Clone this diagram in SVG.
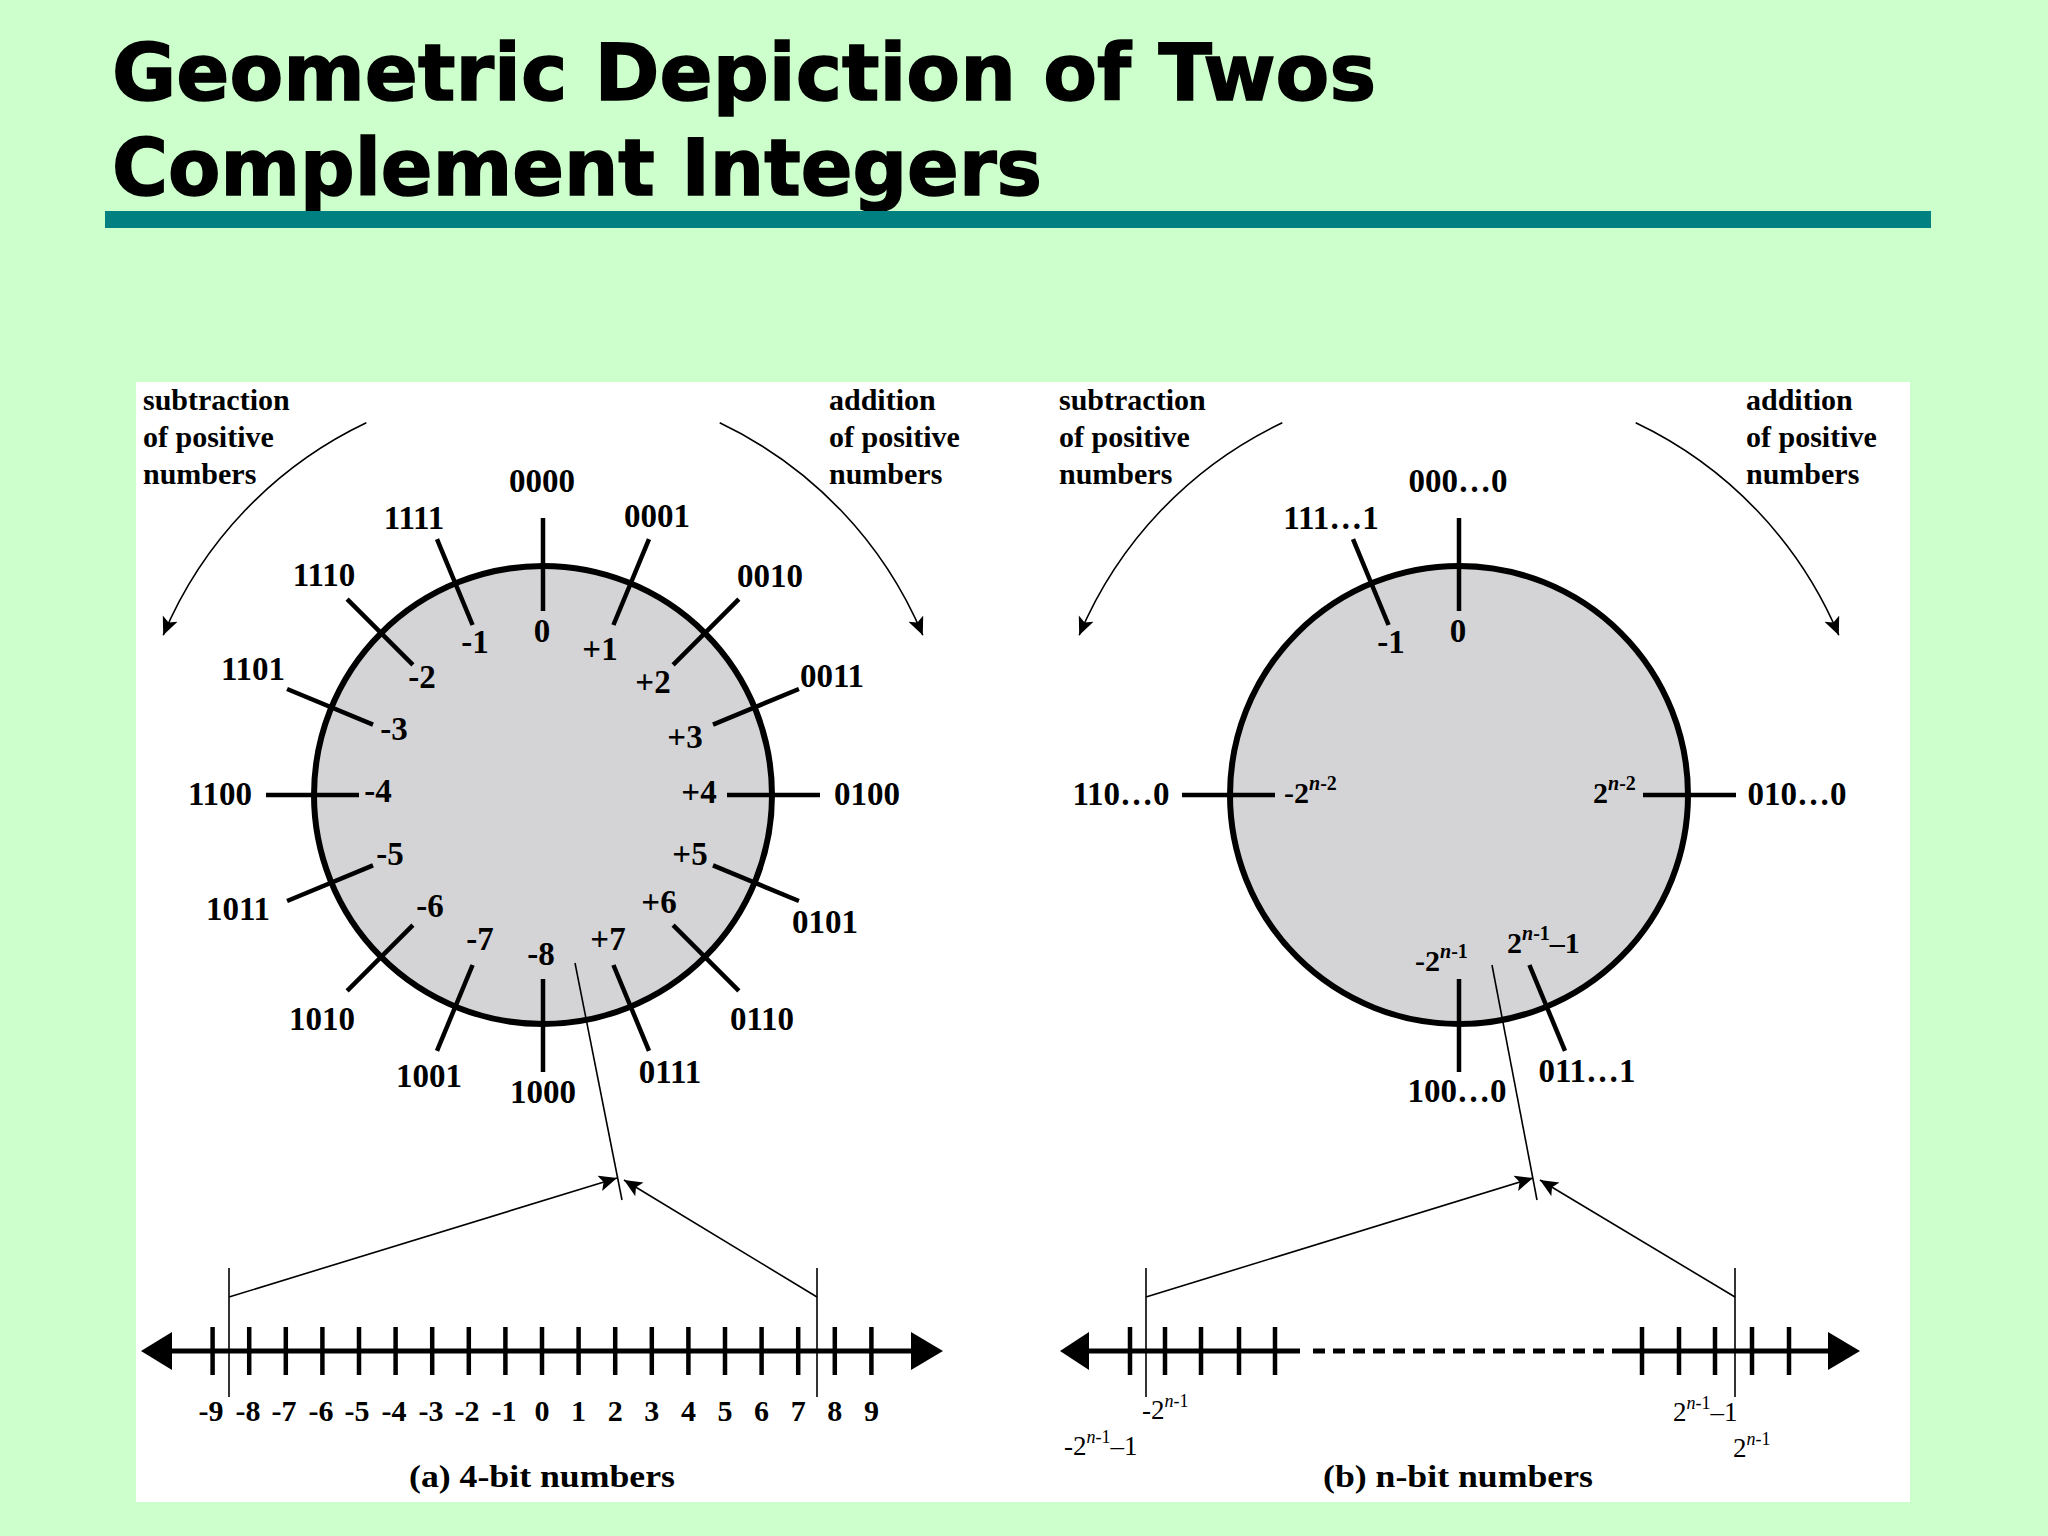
<svg xmlns="http://www.w3.org/2000/svg" width="2048" height="1536" viewBox="0 0 2048 1536">
<defs>
<marker id="ah" markerUnits="userSpaceOnUse" markerWidth="20" markerHeight="18" refX="18" refY="8" orient="auto">
<path d="M0,0 L18,8 L0,16 L4,8 z" fill="#000"/>
</marker>
<style>
.t{font-family:"Liberation Serif","Times New Roman",serif;font-weight:bold;fill:#000}
.lb{font-size:33px;text-anchor:middle}
.an{font-size:30px}
.nl{font-size:30px;text-anchor:middle}
.rg{font-family:"Liberation Serif","Times New Roman",serif;font-size:27px;fill:#000}
.tk{stroke:#000;stroke-width:4.5;fill:none}
.thin{stroke:#000;stroke-width:1.6;fill:none}
.circ{fill:#d4d4d6;stroke:#000;stroke-width:6}
.axis{stroke:#000;stroke-width:5;fill:none}
.title{font-family:"DejaVu Sans","Liberation Sans",sans-serif;font-weight:bold;font-size:78px;fill:#000;stroke:#000;stroke-width:1.5}
</style>
</defs>
<rect x="0" y="0" width="2048" height="1536" fill="#ccffcc"/>
<g id="title">
<text class="title" x="112" y="100" textLength="1264" lengthAdjust="spacingAndGlyphs">Geometric Depiction of Twos</text>
<text class="title" x="112" y="195" textLength="930" lengthAdjust="spacingAndGlyphs">Complement Integers</text>
<rect x="105" y="211" width="1826" height="17" fill="#008080"/>
</g>
<rect id="panel" x="136" y="382" width="1774" height="1120" fill="#ffffff"/>

<!-- (a) 4-bit -->
<g id="circle-a">
<circle cx="543" cy="795" r="229" class="circ"/>
<g transform="translate(543,795)" class="tk">
<line y1="-184" y2="-277" transform="rotate(0)"/>
<line y1="-184" y2="-277" transform="rotate(22.5)"/>
<line y1="-184" y2="-277" transform="rotate(45)"/>
<line y1="-184" y2="-277" transform="rotate(67.5)"/>
<line y1="-184" y2="-277" transform="rotate(90)"/>
<line y1="-184" y2="-277" transform="rotate(112.5)"/>
<line y1="-184" y2="-277" transform="rotate(135)"/>
<line y1="-184" y2="-277" transform="rotate(157.5)"/>
<line y1="-184" y2="-277" transform="rotate(180)"/>
<line y1="-184" y2="-277" transform="rotate(202.5)"/>
<line y1="-184" y2="-277" transform="rotate(225)"/>
<line y1="-184" y2="-277" transform="rotate(247.5)"/>
<line y1="-184" y2="-277" transform="rotate(270)"/>
<line y1="-184" y2="-277" transform="rotate(292.5)"/>
<line y1="-184" y2="-277" transform="rotate(315)"/>
<line y1="-184" y2="-277" transform="rotate(337.5)"/>
</g>
<g class="t lb">
<text x="542" y="492">0000</text>
<text x="657" y="527">0001</text>
<text x="770" y="587">0010</text>
<text x="832" y="687">0011</text>
<text x="867" y="805">0100</text>
<text x="825" y="933">0101</text>
<text x="762" y="1030">0110</text>
<text x="670" y="1083">0111</text>
<text x="543" y="1103">1000</text>
<text x="429" y="1087">1001</text>
<text x="322" y="1030">1010</text>
<text x="238" y="920">1011</text>
<text x="220" y="805">1100</text>
<text x="253" y="680">1101</text>
<text x="324" y="586">1110</text>
<text x="414" y="529">1111</text>
<text x="542" y="642">0</text>
<text x="600" y="660">+1</text>
<text x="653" y="693">+2</text>
<text x="685" y="748">+3</text>
<text x="699" y="803">+4</text>
<text x="690" y="865">+5</text>
<text x="659" y="913">+6</text>
<text x="608" y="950">+7</text>
<text x="541" y="965">-8</text>
<text x="480" y="950">-7</text>
<text x="430" y="917">-6</text>
<text x="390" y="865">-5</text>
<text x="378" y="802">-4</text>
<text x="394" y="740">-3</text>
<text x="422" y="688">-2</text>
<text x="475" y="653">-1</text>
</g>
</g>
<g id="annot-a" class="t an">
<text x="143" y="410">subtraction</text>
<text x="143" y="447">of positive</text>
<text x="143" y="484">numbers</text>
<text x="829" y="410">addition</text>
<text x="829" y="447">of positive</text>
<text x="829" y="484">numbers</text>
</g>
<g id="numberline-a">
<line x1="160" y1="1351" x2="925" y2="1351" class="axis"/>
<path d="M141,1351 L172,1332 L172,1370 z" fill="#000"/>
<path d="M943,1351 L911,1332 L911,1370 z" fill="#000"/>
<g class="tk">
<line x1="212.6" y1="1327" x2="212.6" y2="1375"/>
<line x1="249.2" y1="1327" x2="249.2" y2="1375"/>
<line x1="285.8" y1="1327" x2="285.8" y2="1375"/>
<line x1="322.4" y1="1327" x2="322.4" y2="1375"/>
<line x1="359" y1="1327" x2="359" y2="1375"/>
<line x1="395.6" y1="1327" x2="395.6" y2="1375"/>
<line x1="432.2" y1="1327" x2="432.2" y2="1375"/>
<line x1="468.8" y1="1327" x2="468.8" y2="1375"/>
<line x1="505.4" y1="1327" x2="505.4" y2="1375"/>
<line x1="542" y1="1327" x2="542" y2="1375"/>
<line x1="578.6" y1="1327" x2="578.6" y2="1375"/>
<line x1="615.2" y1="1327" x2="615.2" y2="1375"/>
<line x1="651.8" y1="1327" x2="651.8" y2="1375"/>
<line x1="688.4" y1="1327" x2="688.4" y2="1375"/>
<line x1="725" y1="1327" x2="725" y2="1375"/>
<line x1="761.6" y1="1327" x2="761.6" y2="1375"/>
<line x1="798.2" y1="1327" x2="798.2" y2="1375"/>
<line x1="834.8" y1="1327" x2="834.8" y2="1375"/>
<line x1="871.4" y1="1327" x2="871.4" y2="1375"/>
</g>
<g class="t nl">
<text x="211" y="1421">-9</text>
<text x="248" y="1421">-8</text>
<text x="284" y="1421">-7</text>
<text x="321" y="1421">-6</text>
<text x="357" y="1421">-5</text>
<text x="394" y="1421">-4</text>
<text x="431" y="1421">-3</text>
<text x="467" y="1421">-2</text>
<text x="504" y="1421">-1</text>
<text x="542" y="1421">0</text>
<text x="578.6" y="1421">1</text>
<text x="615.2" y="1421">2</text>
<text x="651.8" y="1421">3</text>
<text x="688.4" y="1421">4</text>
<text x="725" y="1421">5</text>
<text x="761.6" y="1421">6</text>
<text x="798.2" y="1421">7</text>
<text x="834.8" y="1421">8</text>
<text x="871.4" y="1421">9</text>
</g>
<text class="t" x="542" y="1487" font-size="31" text-anchor="middle" textLength="266" lengthAdjust="spacingAndGlyphs">(a) 4-bit numbers</text>
</g>

<!-- (b) n-bit -->
<g id="circle-b">
<circle cx="1459" cy="795" r="229" class="circ"/>
<g transform="translate(1459,795)" class="tk">
<line y1="-184" y2="-277" transform="rotate(0)"/>
<line y1="-184" y2="-277" transform="rotate(90)"/>
<line y1="-184" y2="-277" transform="rotate(157.5)"/>
<line y1="-184" y2="-277" transform="rotate(180)"/>
<line y1="-184" y2="-277" transform="rotate(270)"/>
<line y1="-184" y2="-277" transform="rotate(337.5)"/>
</g>
<g class="t lb">
<text x="1458" y="492">000…0</text>
<text x="1331" y="529">111…1</text>
<text x="1121" y="805">110…0</text>
<text x="1797" y="805">010…0</text>
<text x="1457" y="1102">100…0</text>
<text x="1587" y="1082">011…1</text>
<text x="1458" y="642">0</text>
<text x="1391" y="653">-1</text>
</g>
<g class="t" font-size="30">
<text x="1284" y="803">-2<tspan dy="-13" font-size="20"><tspan font-style="italic">n</tspan>-2</tspan></text>
<text x="1593" y="803">2<tspan dy="-13" font-size="20"><tspan font-style="italic">n</tspan>-2</tspan></text>
<text x="1415" y="971">-2<tspan dy="-13" font-size="20"><tspan font-style="italic">n</tspan>-1</tspan></text>
<text x="1507" y="953">2<tspan dy="-13" font-size="20"><tspan font-style="italic">n</tspan>-1</tspan><tspan dy="13">–1</tspan></text>
</g>
</g>
<g id="annot-b" class="t an">
<text x="1059" y="410">subtraction</text>
<text x="1059" y="447">of positive</text>
<text x="1059" y="484">numbers</text>
<text x="1746" y="410">addition</text>
<text x="1746" y="447">of positive</text>
<text x="1746" y="484">numbers</text>
</g>
<g id="numberline-b">
<line x1="1075" y1="1351" x2="1300" y2="1351" class="axis"/>
<line x1="1313" y1="1351" x2="1598" y2="1351" class="axis" stroke-dasharray="12 8"/>
<line x1="1598" y1="1351" x2="1604" y2="1351" class="axis"/>
<line x1="1612" y1="1351" x2="1845" y2="1351" class="axis"/>
<path d="M1060,1351 L1089,1332 L1089,1370 z" fill="#000"/>
<path d="M1860,1351 L1828,1332 L1828,1370 z" fill="#000"/>
<g class="tk">
<line x1="1130" y1="1327" x2="1130" y2="1375"/>
<line x1="1165" y1="1327" x2="1165" y2="1375"/>
<line x1="1201" y1="1327" x2="1201" y2="1375"/>
<line x1="1239" y1="1327" x2="1239" y2="1375"/>
<line x1="1275" y1="1327" x2="1275" y2="1375"/>
<line x1="1642" y1="1327" x2="1642" y2="1375"/>
<line x1="1679" y1="1327" x2="1679" y2="1375"/>
<line x1="1715" y1="1327" x2="1715" y2="1375"/>
<line x1="1752" y1="1327" x2="1752" y2="1375"/>
<line x1="1789" y1="1327" x2="1789" y2="1375"/>
</g>
<g class="rg">
<text x="1142" y="1419">-2<tspan dy="-12" font-size="18"><tspan font-style="italic">n</tspan>-1</tspan></text>
<text x="1064" y="1455">-2<tspan dy="-12" font-size="18"><tspan font-style="italic">n</tspan>-1</tspan><tspan dy="12">–1</tspan></text>
<text x="1673" y="1421">2<tspan dy="-12" font-size="18"><tspan font-style="italic">n</tspan>-1</tspan><tspan dy="12">–1</tspan></text>
<text x="1733" y="1457">2<tspan dy="-12" font-size="18"><tspan font-style="italic">n</tspan>-1</tspan></text>
</g>
<text class="t" x="1458" y="1487" font-size="31" text-anchor="middle" textLength="270" lengthAdjust="spacingAndGlyphs">(b) n-bit numbers</text>
</g>

<g id="connectors">
<path class="thin" d="M366.3,422.8 A412,412 0 0 0 163.2,635.3" marker-end="url(#ah)"/>
<path class="thin" d="M719.7,422.8 A412,412 0 0 1 922.8,635.3" marker-end="url(#ah)"/>
<path class="thin" d="M1282.3,422.8 A412,412 0 0 0 1079.2,635.3" marker-end="url(#ah)"/>
<path class="thin" d="M1635.7,422.8 A412,412 0 0 1 1838.8,635.3" marker-end="url(#ah)"/>
<line class="thin" x1="575" y1="963" x2="622" y2="1200"/>
<line class="thin" x1="229" y1="1268" x2="229" y2="1397"/>
<line class="thin" x1="817" y1="1268" x2="817" y2="1397"/>
<line class="thin" x1="229" y1="1297" x2="617" y2="1178" marker-end="url(#ah)"/>
<line class="thin" x1="817" y1="1297" x2="624" y2="1180" marker-end="url(#ah)"/>
<line class="thin" x1="1492" y1="965" x2="1537" y2="1200"/>
<line class="thin" x1="1146" y1="1268" x2="1146" y2="1397"/>
<line class="thin" x1="1735" y1="1268" x2="1735" y2="1397"/>
<line class="thin" x1="1146" y1="1297" x2="1533" y2="1178" marker-end="url(#ah)"/>
<line class="thin" x1="1735" y1="1297" x2="1540" y2="1180" marker-end="url(#ah)"/>
</g>
</svg>
